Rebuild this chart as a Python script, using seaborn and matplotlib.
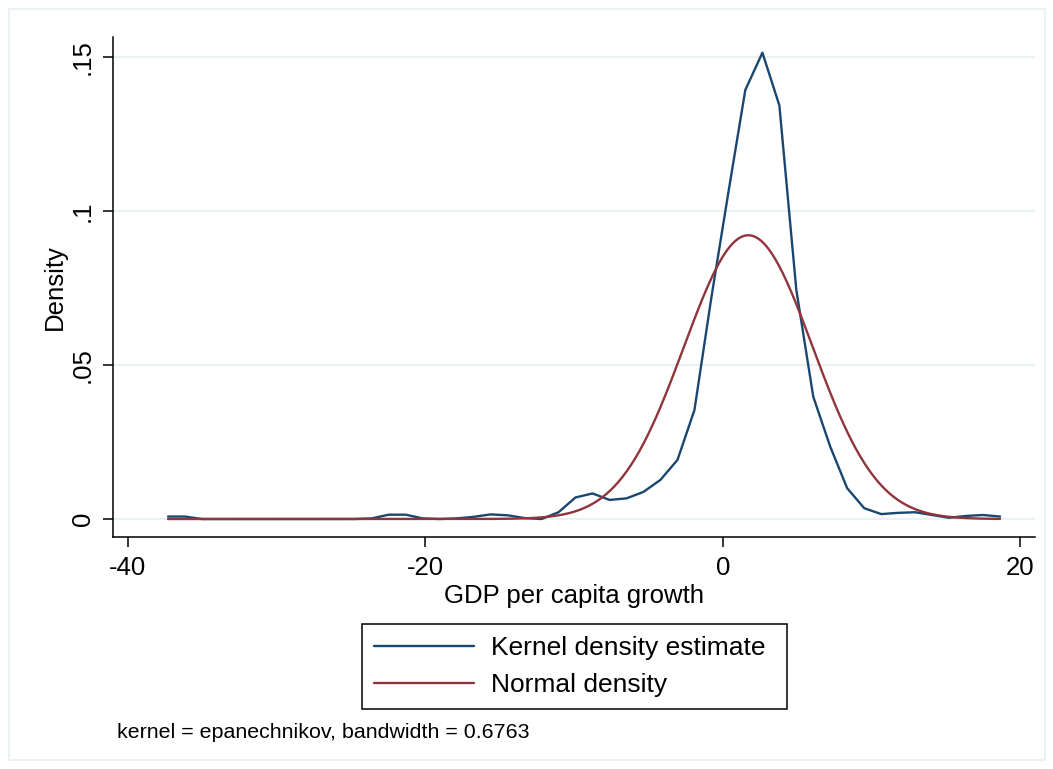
import numpy as np
import pandas as pd
import matplotlib
matplotlib.use("Agg")
import matplotlib.pyplot as plt
from matplotlib.patches import Rectangle
import seaborn as sns

# ---- data ----
kde_x = [-37.30, -36.16, -35.02, -33.87, -32.73, -31.59, -30.45, -29.31, -28.17, -27.02,
         -25.88, -24.74, -23.60, -22.46, -21.31, -20.17, -19.03, -17.89, -16.75, -15.61,
         -14.46, -13.32, -12.18, -11.04, -9.90, -8.75, -7.61, -6.47, -5.33, -4.19,
         -3.04, -1.90, -0.76, 0.38, 1.52, 2.67, 3.81, 4.95, 6.09, 7.23,
         8.37, 9.52, 10.66, 11.80, 12.94, 14.08, 15.22, 16.37, 17.51, 18.65]
kde_y = [0.0008, 0.0008, 0.0000, 0.0000, 0.0000, 0.0000, 0.0000, 0.0000, 0.0000, 0.0000,
         0.0000, 0.0000, 0.0002, 0.0014, 0.0014, 0.0002, 0.0000, 0.0002, 0.0007, 0.0015,
         0.0012, 0.0003, 0.0000, 0.0022, 0.0070, 0.0083, 0.0062, 0.0067, 0.0088, 0.0127,
         0.0192, 0.0354, 0.0720, 0.1060, 0.1393, 0.1514, 0.1343, 0.0744, 0.0397, 0.0235,
         0.0100, 0.0035, 0.0016, 0.0020, 0.0022, 0.0013, 0.0004, 0.0010, 0.0013, 0.0008]

normal_mean = 1.72   # mean of GDP per capita growth
normal_sd = 4.33     # standard deviation

x_ticks = [-40, -20, 0, 20]
x_tick_labels = ["-40", "-20", "0", "20"]
y_ticks = [0, 0.05, 0.10, 0.15]
y_tick_labels = ["0", ".05", ".1", ".15"]

series_names = ["Kernel density estimate", "Normal density"]
note_text = "kernel = epanechnikov, bandwidth = 0.6763"
x_title = "GDP per capita growth"
y_title = "Density"

# ---- derived tables ----
kde_df = pd.DataFrame({"x": kde_x, "y": kde_y})
nx = np.linspace(kde_x[0], kde_x[-1], 400)
norm_df = pd.DataFrame({
    "x": nx,
    "y": np.exp(-0.5 * ((nx - normal_mean) / normal_sd) ** 2) / (normal_sd * np.sqrt(2 * np.pi)),
})

# ---- style ----
sns.set_style("ticks")
plt.rcParams["font.family"] = ["Liberation Sans", "DejaVu Sans"]
plt.rcParams["text.color"] = "black"
plt.rcParams["axes.labelcolor"] = "black"
plt.rcParams["xtick.color"] = "black"
plt.rcParams["ytick.color"] = "black"

BLUE = "#1a476f"
RED = "#90353b"
GRID = "#eaf2f3"

W, H = 1053, 769
fig = plt.figure(figsize=(W / 100, H / 100), dpi=100)
ax = fig.add_axes([113 / W, 1 - 537 / H, (1035 - 113) / W, (537 - 37) / H])

sns.lineplot(data=kde_df, x="x", y="y", ax=ax, color=BLUE, lw=1.7,
             label=series_names[0], zorder=3)
sns.lineplot(data=norm_df, x="x", y="y", ax=ax, color=RED, lw=1.7,
             label=series_names[1], zorder=3)

ax.set_xlim(-41.0, 21.0)
ax.set_ylim(-0.00584, 0.1565)

ax.set_yticks(y_ticks)
ax.set_yticklabels(y_tick_labels)
ax.set_xticks(x_ticks)
ax.set_xticklabels(x_tick_labels)

for yv in y_ticks:
    ax.axhline(yv, color=GRID, lw=1.6, zorder=1)

for s in ["top", "right"]:
    ax.spines[s].set_visible(False)
for s in ["left", "bottom"]:
    ax.spines[s].set_color("black")
    ax.spines[s].set_linewidth(1.1)

ax.tick_params(axis="both", direction="out", length=7, width=1.1, color="black",
               labelsize=18.5, labelcolor="black")
ax.tick_params(axis="x", pad=7)
ax.tick_params(axis="y", pad=6)
for lab in ax.get_yticklabels():
    lab.set_rotation(90)
    lab.set_va("center")
    lab.set_ha("right")

ax.set_xlabel(x_title, fontsize=18.5, color="black")
ax.set_ylabel(y_title, fontsize=18.5, color="black")
ax.xaxis.set_label_coords(0.5, (537 - 596) / 500)
ax.xaxis.label.set_va("center")
ax.yaxis.set_label_coords((55 - 113) / 922, 0.5)
ax.yaxis.label.set_va("center")

handles, labels = ax.get_legend_handles_labels()
ax.get_legend().remove()
leg = fig.legend(handles, labels, loc="upper left",
                 bbox_to_anchor=(362 / W, 1 - 709 / H, 425 / W, 85 / H),
                 mode="expand", fontsize=19, frameon=True, fancybox=False,
                 framealpha=1, edgecolor="black", borderpad=0.45,
                 labelspacing=0.5, handlelength=3.8, handletextpad=0.64,
                 borderaxespad=0)
leg.get_frame().set_linewidth(1.1)
for line in leg.get_lines():
    line.set_linewidth(1.7)
for t in leg.get_texts():
    t.set_color("black")

fig.text(117 / W, 1 - 733 / H, note_text, fontsize=15.4, va="center", ha="left",
         color="black")

fig.patches.append(Rectangle((9 / W, 9 / H), (1045 - 9) / W, (760 - 9) / H,
                             transform=fig.transFigure, fill=False,
                             edgecolor=GRID, lw=1.5))

fig.savefig("out.png", dpi=100, facecolor="white")
